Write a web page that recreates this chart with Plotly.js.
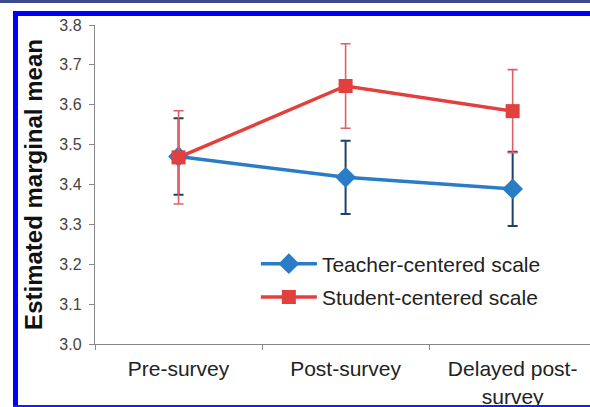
<!DOCTYPE html>
<html>
<head>
<meta charset="utf-8">
<script src="https://cdn.plot.ly/plotly-3.0.1.min.js"></script>
<style>
  html, body { margin: 0; padding: 0; background: #fff; }
  #wrap { position: relative; width: 590px; height: 407px; overflow: hidden; }
  #chart { position: absolute; left: 0; top: 0; width: 590px; height: 407px; }
  .bar { position: absolute; pointer-events: none; }
</style>
</head>
<body>
<div id="wrap">
  <div id="chart"></div>
  <div class="bar" style="left:0;top:0;width:590px;height:3px;background:#3e4a8c;"></div>
  <div class="bar" style="left:13px;top:11px;width:577px;height:5px;background:#0000ff;"></div>
  <div class="bar" style="left:13px;top:11px;width:5px;height:396px;background:#0000ff;"></div>
  <div class="bar" style="left:13px;top:405px;width:577px;height:2px;background:#1a1aff;"></div>
</div>
<script>
const categories = ["Pre-survey", "Post-survey", "Delayed post-<br>survey"];
const teacherMean = [3.470, 3.418, 3.389];
const teacherErr  = [0.096, 0.092, 0.093];
const studentMean = [3.468, 3.647, 3.584];
const studentErr  = [0.117, 0.106, 0.104];
const seriesNames = ["Teacher-centered scale", "Student-centered scale"];
const yTicks = [3.0, 3.1, 3.2, 3.3, 3.4, 3.5, 3.6, 3.7, 3.8];

const traces = [
  {
    type: "scatter", mode: "lines+markers", name: seriesNames[0], legendgroup: "t",
    x: categories, y: teacherMean,
    line: { color: "#2a7cc7", width: 3.5 },
    marker: { symbol: "diamond", size: 16, color: "#2a7cc7" },
    error_y: { type: "data", array: teacherErr, visible: true, color: "#1f3f6e", thickness: 2, width: 5 }
  },
  {
    type: "scatter", mode: "lines+markers", name: seriesNames[1], legendgroup: "s",
    x: categories, y: studentMean,
    line: { color: "#e2403c", width: 3.5 },
    marker: { symbol: "square", size: 14, color: "#e2403c" },
    error_y: { type: "data", array: studentErr, visible: true, color: "#e0606a", thickness: 1.6, width: 5 }
  }
];

const layout = {
  width: 590, height: 407,
  margin: { l: 95, r: 0, t: 25, b: 63 },
  paper_bgcolor: "#ffffff", plot_bgcolor: "#ffffff",
  font: { family: "Liberation Sans, Arial, sans-serif", color: "#333" },
  showlegend: true,
  legend: {
    x: 0.325, y: 0.315, xanchor: "left", yanchor: "top",
    font: { size: 21, color: "#222" },
    bgcolor: "rgba(0,0,0,0)", traceorder: "grouped", tracegroupgap: 3, itemwidth: 56
  },
  xaxis: {
    type: "category", range: [-0.5, 2.463],
    tickson: "boundaries", ticks: "outside", ticklen: 5, tickcolor: "#888",
    showline: true, linecolor: "#888", linewidth: 1.2,
    showgrid: false, zeroline: false,
    ticklabelstandoff: 6,
    tickfont: { size: 21, color: "#222" }
  },
  yaxis: {
    range: [3.0, 3.8], tickvals: yTicks, tickformat: ".1f",
    ticks: "outside", ticklen: 5, tickcolor: "#888",
    showline: true, linecolor: "#888", linewidth: 1.2,
    showgrid: false, zeroline: false,
    ticklabelstandoff: 4,
    tickfont: { size: 16, color: "#444" },
    title: { text: "<b>Estimated marginal mean</b>", font: { size: 24, color: "#111" }, standoff: 10 }
  }
};

Plotly.newPlot("chart", traces, layout, { displayModeBar: false, staticPlot: true });
</script>
</body>
</html>
